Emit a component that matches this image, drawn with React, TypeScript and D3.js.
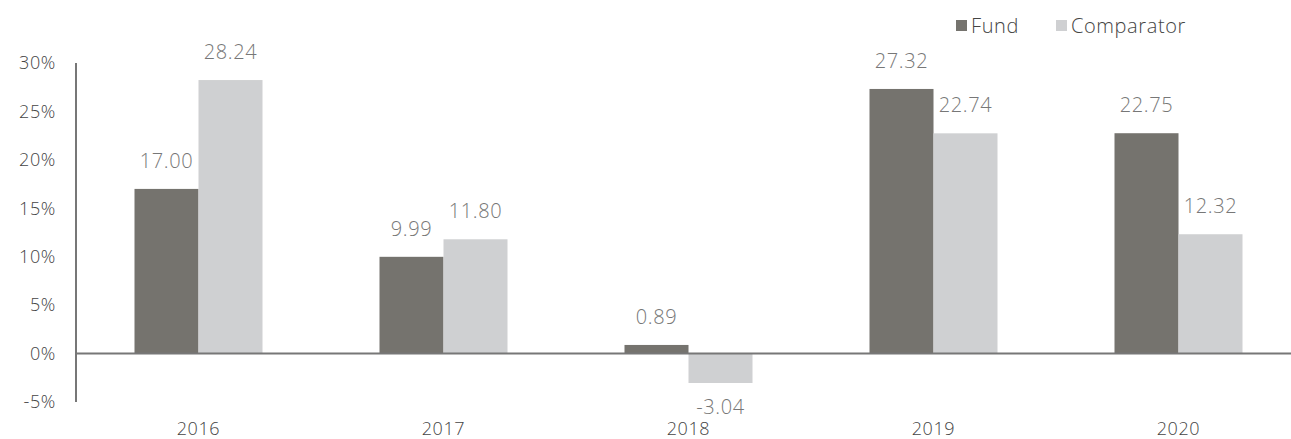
import { useEffect, useRef } from 'react';
import * as d3 from 'd3';

const years = ['2016', '2017', '2018', '2019', '2020'];
const fund = [17.0, 9.99, 0.89, 27.32, 22.75];
const comparator = [28.24, 11.8, -3.04, 22.74, 12.32];
const yTicks = [-5, 0, 5, 10, 15, 20, 25, 30];
const seriesNames = ['Fund', 'Comparator'];
const seriesColors = ['#75736e', '#cfd0d2'];

const W = 1291;
const H = 439;
const FONT = '"Open Sans", sans-serif';

export default function App() {
  const svgRef = useRef<SVGSVGElement | null>(null);

  useEffect(() => {
    if (!svgRef.current) return;
    const svg = d3.select(svgRef.current);
    svg.selectAll('*').remove();

    const left = 76;
    const x = d3.scaleBand<string>().domain(years).range([left, left + 245 * years.length]).paddingInner(0).paddingOuter(0);
    const y = d3.scaleLinear().domain([-5, 30]).range([402, 63]);
    const barW = 64;

    const txt = (sel: any, size: number, color: string) =>
      sel.style('font-family', FONT)
        .style('font-size', `${size}px`)
        .style('font-weight', 300)
        .style('letter-spacing', '0.6px')
        .style('fill', color);

    // y tick labels
    svg.append('g')
      .selectAll('text')
      .data(yTicks)
      .enter()
      .append('text')
      .attr('x', 56)
      .attr('y', d => y(d))
      .attr('dy', '0.35em')
      .attr('text-anchor', 'end')
      .call(txt, 18, '#444')
      .text(d => `${d}%`);

    const data = years.map((yr, i) => ({ yr, vals: [fund[i], comparator[i]] }));

    const groups = svg.append('g')
      .selectAll('g')
      .data(data)
      .enter()
      .append('g');

    groups.each(function (d) {
      const g = d3.select(this);
      const cx = (x(d.yr) as number) + x.bandwidth() / 2;
      d.vals.forEach((v, s) => {
        const x0 = cx - barW + s * barW;
        g.append('rect')
          .attr('x', x0)
          .attr('width', barW)
          .attr('y', Math.min(y(v), y(0)))
          .attr('height', Math.abs(y(v) - y(0)))
          .style('fill', seriesColors[s]);
        g.append('text')
          .attr('x', x0 + barW / 2)
          .attr('y', v >= 0 ? y(v) - 28 : y(v) + 24)
          .attr('dy', '0.35em')
          .attr('text-anchor', 'middle')
          .call(txt, 20, '#777')
          .text(v.toFixed(2));
      });
      g.append('text')
        .attr('x', cx)
        .attr('y', 429)
        .attr('dy', '0.35em')
        .attr('text-anchor', 'middle')
        .call(txt, 18, '#444')
        .text(d.yr);
    });

    // axes lines
    svg.append('line')
      .attr('x1', left).attr('x2', left)
      .attr('y1', y(30)).attr('y2', y(-5))
      .style('stroke', '#777').style('stroke-width', 2);
    svg.append('line')
      .attr('x1', left).attr('x2', W)
      .attr('y1', y(0)).attr('y2', y(0))
      .style('stroke', '#777').style('stroke-width', 2);

    // legend
    const legendX = [956, 1056];
    const legend = svg.append('g')
      .selectAll('g')
      .data(seriesNames)
      .enter()
      .append('g')
      .attr('transform', (d, i) => `translate(${legendX[i]}, 26)`);
    legend.append('rect')
      .attr('x', 0).attr('y', -6).attr('width', 11).attr('height', 11)
      .style('fill', (d, i) => seriesColors[i]);
    legend.append('text')
      .attr('x', 15)
      .attr('y', 0)
      .attr('dy', '0.35em')
      .call(txt, 20, '#444')
      .text(d => d);
  }, []);

  return (
    <div style={{ position: 'fixed', left: 0, top: 0, background: '#fff' }}>
      <svg ref={svgRef} width={W} height={H}></svg>
    </div>
  );
}
